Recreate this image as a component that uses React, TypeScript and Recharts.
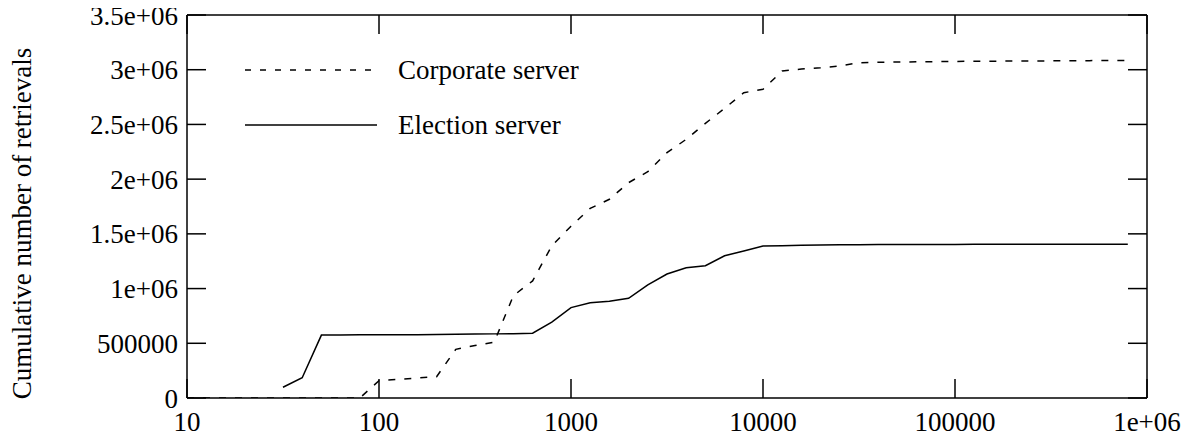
import React from 'react';
import { LineChart, Line, XAxis, YAxis, Legend, Label } from 'recharts';

// bin positions (request size), one per 0.1 decade from 10 to ~7.9e5
const bins = [
  10, 12.59, 15.85, 19.95, 25.12, 31.62, 39.81, 50.12, 63.1, 79.43,
  100, 125.9, 158.5, 199.5, 251.2, 316.2, 398.1, 501.2, 631, 794.3,
  1000, 1259, 1585, 1995, 2512, 3162, 3981, 5012, 6310, 7943,
  10000, 12589, 15849, 19953, 25119, 31623, 39811, 50119, 63096, 79433,
  100000, 125893, 158489, 199526, 251189, 316228, 398107, 501187, 630957, 794328,
];

const corporateValues = [
  0, 0, 0, 0, 0, 0, 0, 0, 0, 0,
  158000, 170000, 182000, 195000, 445000, 480000, 510000, 935000, 1070000, 1390000,
  1570000, 1733000, 1816000, 1968000, 2068000, 2242000, 2364000, 2510000, 2647000, 2790000,
  2821000, 2988000, 3006000, 3018000, 3034000, 3064000, 3068000, 3070000, 3072000, 3074000,
  3076000, 3077000, 3078000, 3079000, 3080000, 3081000, 3082000, 3083000, 3084000, 3085000,
];

// election series starts at the 6th bin (31.6)
const electionStart = 5;
const electionValues = [
  98000, 185000, 575000, 576000, 577000,
  578000, 578000, 579000, 580000, 582000, 584000, 586000, 588000, 592000, 693000,
  826000, 871000, 884000, 911000, 1033000, 1133000, 1191000, 1209000, 1300000, 1343000,
  1389000, 1392000, 1395000, 1398000, 1400000, 1401000, 1402000, 1402000, 1403000, 1403000,
  1403000, 1404000, 1404000, 1404000, 1404000, 1405000, 1405000, 1405000, 1405000, 1405000,
];

const xTicks = [10, 100, 1000, 10000, 100000, 1000000];
const yTicks = [0, 500000, 1000000, 1500000, 2000000, 2500000, 3000000, 3500000];

const seriesNames = ['Corporate server', 'Election server'];
const yLabel = 'Cumulative number of retrievals';

const corporateData = bins.map((x, i) => ({ x, y: corporateValues[i] }));
const electionData = electionValues.map((y, i) => ({ x: bins[i + electionStart], y }));

const FONT = 'Liberation Serif, Times New Roman, serif';
const FS = 27;
const DASH = '7 9';
const dashes: Record<string, string | undefined> = {
  'Corporate server': '6 9',
  'Election server': undefined,
};

const fmtX = (v: number) => (v >= 1000000 ? `${v / 1000000}e+06` : String(v));
const fmtY = (v: number) => (v >= 1000000 ? `${v / 1000000}e+06` : String(v));

const tickStyle = { fill: '#000', fontSize: FS, fontFamily: FONT };

const renderLegend = (props: any) => {
  const payload = props.payload || [];
  return (
    <svg width={400} height={100} style={{ display: 'block', overflow: 'visible' }}>
      {payload.map((e: any, i: number) => {
        const cy = 15 + i * 55;
        return (
          <g key={i}>
            <line x1={0} x2={132} y1={cy} y2={cy} stroke="#000" strokeWidth={1.5} strokeDasharray={dashes[e.value]} />
            <text x={153} y={cy} dominantBaseline="central" fontSize={FS} fontFamily={FONT} fill="#000">
              {e.value}
            </text>
          </g>
        );
      })}
    </svg>
  );
};

const renderYLabel = (props: any) => {
  const vb = props.viewBox || { x: 0, y: 0, width: 0, height: 0 };
  const cx = vb.x + 14;
  const cy = vb.y + vb.height / 2 + 17;
  return (
    <text
      x={cx}
      y={cy}
      transform={`rotate(-90 ${cx} ${cy})`}
      textAnchor="middle"
      dominantBaseline="central"
      fontSize={FS}
      fontFamily={FONT}
      fill="#000"
    >
      {yLabel}
    </text>
  );
};

export default function App() {
  const W = 1183;
  const H = 430;
  return (
    <div style={{ width: W, height: H, fontFamily: FONT }}>
      <LineChart width={W} height={H} margin={{ top: 6, right: 43, bottom: 0, left: 0 }}>
        <XAxis
          xAxisId="b"
          dataKey="x"
          type="number"
          scale="log"
          domain={[10, 1000000]}
          ticks={xTicks}
          tickFormatter={fmtX}
          interval={0}
          allowDataOverflow
          height={40}
          tickSize={-19}
          tickMargin={33}
          stroke="#000"
          strokeWidth={1.5}
          tick={tickStyle}
        />
        <XAxis
          xAxisId="t"
          orientation="top"
          dataKey="x"
          type="number"
          scale="log"
          domain={[10, 1000000]}
          ticks={xTicks}
          tickFormatter={() => ''}
          interval={0}
          allowDataOverflow
          height={1}
          tickSize={-19}
          stroke="#000"
          strokeWidth={1.5}
          tick={tickStyle}
        />
        <YAxis
          yAxisId="l"
          type="number"
          domain={[0, 3500000]}
          ticks={yTicks}
          tickFormatter={fmtY}
          interval={0}
          allowDataOverflow
          width={179}
          tickSize={-19}
          tickMargin={28}
          stroke="#000"
          strokeWidth={1.5}
          tick={tickStyle}
        >
          <Label content={renderYLabel} />
        </YAxis>
        <YAxis
          yAxisId="r"
          orientation="right"
          type="number"
          domain={[0, 3500000]}
          ticks={yTicks}
          tickFormatter={() => ''}
          interval={0}
          allowDataOverflow
          width={1}
          tickSize={-19}
          stroke="#000"
          strokeWidth={1.5}
          tick={tickStyle}
        />
        <Legend
          layout="horizontal"
          verticalAlign="middle"
          align="center"
          content={renderLegend}
          wrapperStyle={{ position: 'absolute', left: 237, top: 47, width: 400, height: 100 }}
        />
        <Line
          xAxisId="b"
          yAxisId="l"
          data={corporateData}
          dataKey="y"
          name={seriesNames[0]}
          type="linear"
          stroke="#000"
          strokeWidth={1.5}
          strokeDasharray={DASH}
          dot={false}
          activeDot={false}
          isAnimationActive={false}
        />
        <Line
          xAxisId="b"
          yAxisId="l"
          data={electionData}
          dataKey="y"
          name={seriesNames[1]}
          type="linear"
          stroke="#000"
          strokeWidth={1.5}
          dot={false}
          activeDot={false}
          isAnimationActive={false}
        />
      </LineChart>
    </div>
  );
}
